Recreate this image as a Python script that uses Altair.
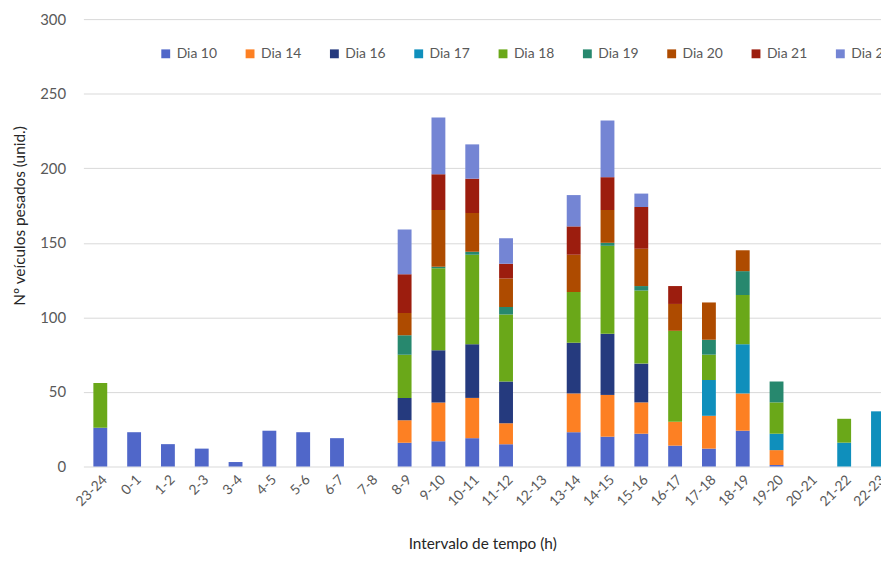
import altair as alt
import pandas as pd

intervals = ["23-24", "0-1", "1-2", "2-3", "3-4", "4-5", "5-6", "6-7", "7-8", "8-9",
             "9-10", "10-11", "11-12", "12-13", "13-14", "14-15", "15-16", "16-17",
             "17-18", "18-19", "19-20", "20-21", "21-22", "22-23"]
days = ["Dia 10", "Dia 14", "Dia 16", "Dia 17", "Dia 18", "Dia 19", "Dia 20", "Dia 21", "Dia 22"]
colors = ["#5067C9", "#FD8023", "#253A7E", "#0F8FBC", "#6AA819", "#27886E", "#AE4B00", "#9C1D0E", "#7485D4"]

#                 23 0  1  2  3  4  5  6  7  8  9  10 11 12 13 14 15 16 17 18 19 20 21 22
dia10 = [26, 23, 15, 12, 3, 24, 23, 19, 0, 16, 17, 19, 15, 0, 23, 20, 22, 14, 12, 24, 1, 0, 0, 0]
dia14 = [0, 0, 0, 0, 0, 0, 0, 0, 0, 15, 26, 27, 14, 0, 26, 28, 21, 16, 22, 25, 10, 0, 0, 0]
dia16 = [0, 0, 0, 0, 0, 0, 0, 0, 0, 15, 35, 36, 28, 0, 34, 41, 26, 0, 0, 0, 0, 0, 0, 0]
dia17 = [0, 0, 0, 0, 0, 0, 0, 0, 0, 0, 0, 0, 0, 0, 0, 0, 0, 0, 24, 33, 11, 0, 16, 37]
dia18 = [30, 0, 0, 0, 0, 0, 0, 0, 0, 29, 55, 60, 45, 0, 34, 59, 49, 61, 17, 33, 21, 0, 16, 0]
dia19 = [0, 0, 0, 0, 0, 0, 0, 0, 0, 13, 1, 2, 5, 0, 0, 2, 3, 0, 10, 16, 14, 0, 0, 0]
dia20 = [0, 0, 0, 0, 0, 0, 0, 0, 0, 15, 38, 26, 19, 0, 25, 22, 25, 18, 25, 14, 0, 0, 0, 0]
dia21 = [0, 0, 0, 0, 0, 0, 0, 0, 0, 26, 24, 23, 10, 0, 19, 22, 28, 12, 0, 0, 0, 0, 0, 0]
dia22 = [0, 0, 0, 0, 0, 0, 0, 0, 0, 30, 38, 23, 17, 0, 21, 38, 9, 0, 0, 0, 0, 0, 0, 0]

series = [dia10, dia14, dia16, dia17, dia18, dia19, dia20, dia21, dia22]
y_ticks = [0, 50, 100, 150, 200, 250, 300]

rows = []
for k, (d, vals) in enumerate(zip(days, series)):
    for c, v in zip(intervals, vals):
        if v > 0:
            rows.append({"interval": c, "dia": d, "value": v, "ord": k})
df = pd.DataFrame(rows)

FONT = "Lato"

chart = alt.Chart(df).mark_bar().encode(
    x=alt.X("interval:N", sort=intervals,
            scale=alt.Scale(domain=intervals, range=[0, 818], paddingInner=0.59, paddingOuter=0.295),
            axis=alt.Axis(title="Intervalo de tempo (h)", labelAngle=-45, domain=False,
                          ticks=False, tickSize=0, labelPadding=6, labelFontSize=14,
                          labelColor="#595959", labelFont=FONT, titleFont=FONT,
                          titleFontSize=15.5, titleFontWeight="normal", titleColor="#262626",
                          titleX=402, titleY=83, titleBaseline="alphabetic", titleAnchor="middle")),
    y=alt.Y("value:Q", stack="zero",
            scale=alt.Scale(domain=[0, 300], nice=False),
            axis=alt.Axis(title="Nº veículos pesados (unid.)", values=y_ticks, domain=False,
                          ticks=False, tickSize=0, labelPadding=18, labelFontSize=15,
                          labelColor="#595959", labelFont=FONT, gridColor="#D9D9D9",
                          titleFont=FONT, titleFontSize=15.5, titleFontWeight="normal",
                          titleColor="#262626", titleX=-59, titleY=198,
                          titleBaseline="alphabetic", titleAngle=-90, titleAnchor="middle")),
    color=alt.Color("dia:N", scale=alt.Scale(domain=days, range=colors),
                    legend=alt.Legend(title=None, orient="none", legendX=76, legendY=28,
                                      direction="horizontal", columns=9, symbolType="square",
                                      symbolSize=80, symbolStrokeWidth=0, labelFontSize=14,
                                      labelFont=FONT, labelColor="#595959", columnPadding=26,
                                      labelOffset=4)),
    order=alt.Order("ord:Q", sort="ascending"),
).properties(
    width=804, height=451,
    autosize=alt.AutoSizeParams(type="none"),
    padding={"left": 76, "top": 9, "right": 0, "bottom": 86},
).configure_view(stroke=None)

chart.save("out.html", embed_options={"renderer": "svg", "actions": False})
